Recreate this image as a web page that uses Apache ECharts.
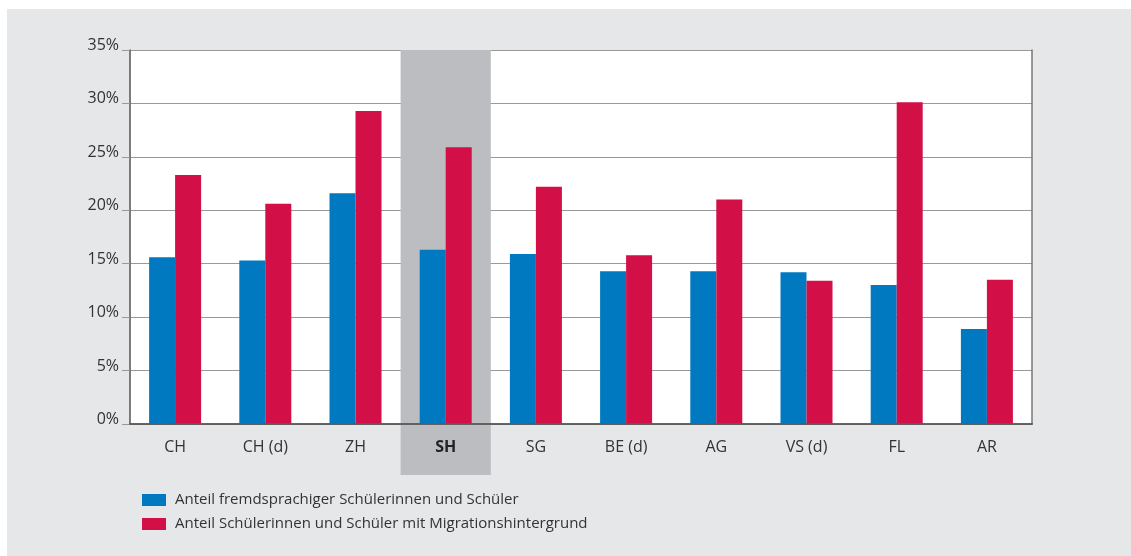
<!DOCTYPE html>
<html>
<head>
<meta charset="utf-8">
<script src="https://cdn.jsdelivr.net/npm/echarts@6/dist/echarts.min.js"></script>
<style>
  body { margin: 0; background: #fff; }
  #bg { position: absolute; left: 7px; top: 9px; width: 1124px; height: 547px; background: #e6e7e9; }
  #chart { position: absolute; left: 0; top: 0; width: 1131px; height: 556px; }
</style>
</head>
<body>
<div id="bg"></div>
<div id="chart"></div>
<script>
var categories = ['CH', 'CH (d)', 'ZH', 'SH', 'SG', 'BE (d)', 'AG', 'VS (d)', 'FL', 'AR'];
var fremdsprachig = [15.6, 15.3, 21.6, 16.3, 15.9, 14.3, 14.3, 14.2, 13.0, 8.9];
var migration = [23.3, 20.6, 29.3, 25.9, 22.2, 15.8, 21.0, 13.4, 30.1, 13.5];
var seriesNames = ['Anteil fremdsprachiger Schülerinnen und Schüler', 'Anteil Schülerinnen und Schüler mit Migrationshintergrund'];
var highlight = 'SH';
var yMax = 35;

var font = '"Open Sans", Lato, sans-serif';
var myChart = echarts.init(document.getElementById('chart'));

myChart.setOption({
    backgroundColor: 'transparent',
    textStyle: { fontFamily: font },
    grid: { left: 130, top: 50, width: 902, height: 374, show: true, backgroundColor: '#fff', borderWidth: 0 },
    legend: {
        orient: 'vertical',
        left: 142,
        top: 490,
        padding: 0,
        itemWidth: 24,
        itemHeight: 12,
        itemGap: 4,
        icon: 'rect',
        data: seriesNames,
        textStyle: { fontSize: 15, color: '#333', fontFamily: font, lineHeight: 20, padding: [0, 0, 0, 4] }
    },
    xAxis: [
        {
            type: 'category',
            data: categories,
            z: 5,
            axisLine: { lineStyle: { color: '#333', width: 1.5 } },
            axisTick: { length: 12, lineStyle: { color: '#555' } },
            axisLabel: {
                margin: 15,
                fontSize: 16,
                color: '#333',
                fontFamily: font,
                formatter: function (v) { return v === highlight ? '{b|' + v + '}' : v; },
                rich: { b: { fontWeight: 'bold', fontSize: 16, color: '#222', fontFamily: font } }
            }
        },
        {
            type: 'category',
            data: categories,
            position: 'top',
            z: 5,
            axisLine: { lineStyle: { color: '#666', width: 1.5 } },
            axisTick: { show: false },
            axisLabel: { show: false }
        }
    ],
    yAxis: [
        {
            type: 'value',
            min: 0,
            max: yMax,
            interval: 5,
            axisLine: { show: true, lineStyle: { color: '#555', width: 1.5 } },
            axisTick: { show: true, length: 8, lineStyle: { color: '#999' } },
            splitLine: { lineStyle: { color: '#999', width: 1 } },
            axisLabel: {
                formatter: '{value}%',
                fontSize: 16,
                color: '#333',
                margin: 11,
                verticalAlign: 'bottom',
                lineHeight: 9,
                fontFamily: font
            }
        },
        {
            type: 'value',
            min: 0,
            max: yMax,
            interval: 5,
            position: 'right',
            z: 5,
            axisLine: { show: true, lineStyle: { color: '#777', width: 1.5 } },
            axisTick: { show: false },
            axisLabel: { show: false },
            splitLine: { show: false }
        }
    ],
    series: [
        {
            type: 'custom',
            z: 1,
            silent: true,
            clip: false,
            data: [[categories.indexOf(highlight), yMax]],
            renderItem: function (params, api) {
                var top = api.coord([api.value(0), api.value(1)]);
                var base = api.coord([api.value(0), 0]);
                var w = api.size([1, 0])[0];
                return {
                    type: 'rect',
                    shape: { x: top[0] - w / 2, y: top[1], width: w, height: base[1] - top[1] + 51 },
                    style: { fill: '#bcbdc1' }
                };
            }
        },
        {
            name: seriesNames[0],
            type: 'bar',
            z: 2,
            barWidth: 26,
            barGap: '0%',
            itemStyle: { color: '#0079c1' },
            data: fremdsprachig
        },
        {
            name: seriesNames[1],
            type: 'bar',
            z: 2,
            barWidth: 26,
            itemStyle: { color: '#d20f46' },
            data: migration
        }
    ]
});
</script>
</body>
</html>
